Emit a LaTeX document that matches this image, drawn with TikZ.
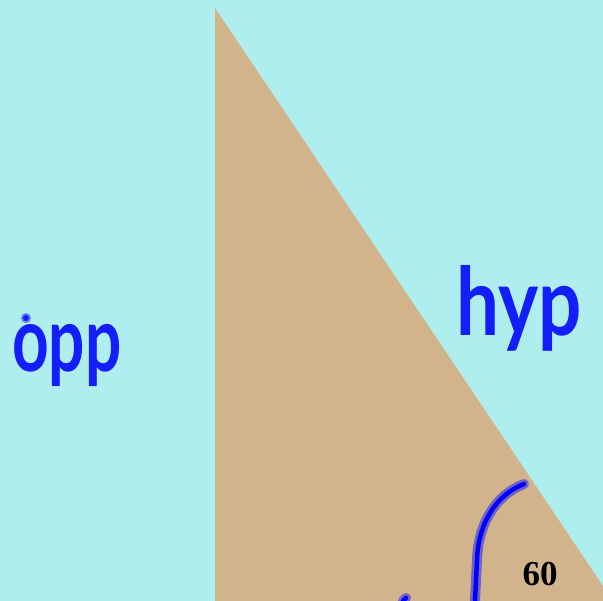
\documentclass[tikz,border=0pt]{standalone}
\usepackage{fontspec}
\setmainfont{Liberation Serif}
\newfontfamily\hand{Lato}
\definecolor{bgc}{RGB}{175,238,238}
\definecolor{tanc}{RGB}{210,180,140}
\definecolor{inkc}{RGB}{20,30,250}
\tikzset{
  ink/.style={draw=blue, line width=4.5pt, line cap=round, line join=round},
  halo/.style={draw=blue, opacity=0.45, line width=10pt, line cap=round, line join=round},
  handtext/.style={text=inkc, inner sep=0pt, font=\hand\bfseries\fontsize{82}{82}\selectfont},
  numtext/.style={inner sep=0pt, font=\bfseries\fontsize{35}{35}\selectfont}
}
\begin{document}
\begin{tikzpicture}[x=1pt,y=-1pt]
\fill[bgc] (0,0) rectangle (603,601);
\useasboundingbox (0,0) rectangle (603,601);
\fill[tanc, line join=round] (215,8) -- (603,586) -- (603,601) -- (215,601) -- cycle;
% labels
\node[handtext, anchor=base west, xscale=0.78, yscale=1.1] (opp) at (12,372) {opp};
\node[handtext, anchor=base west, xscale=0.93, yscale=1.15] (hyp) at (456,336) {hyp};
\fill[halo, draw=none, fill=blue] (26,318) circle (5pt);
\fill[inkc] (26,318) circle (3pt);
\node[numtext] (sixty) at (540,574) {60};
% angle arc
\coordinate (a1) at (524,484);
\coordinate (a2) at (475,601);
\draw[halo] (a1) .. controls (495,495) and (478,525) .. (477,560) -- (a2);
\draw[ink] (a1) .. controls (495,495) and (478,525) .. (477,560) -- (a2);
% stray mark at bottom
\coordinate (s1) at (403,601);
\coordinate (s2) at (406,598);
\draw[halo] (s1) -- (s2);
\draw[ink] (s1) -- (s2);
\end{tikzpicture}
\end{document}
